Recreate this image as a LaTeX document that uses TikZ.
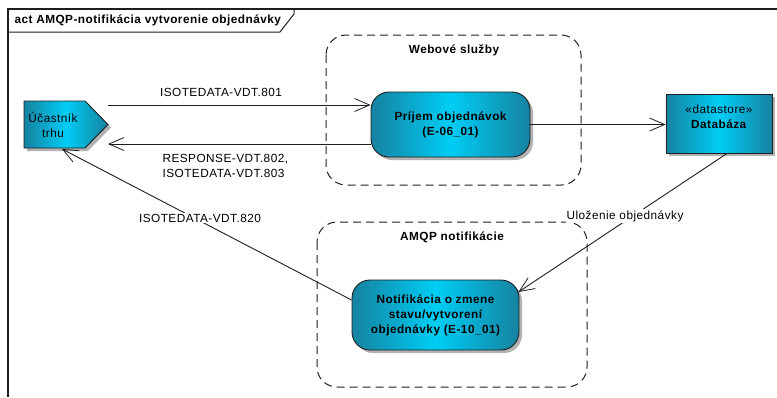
\documentclass[tikz,border=0pt]{standalone}
\usepackage{fontspec}
\setmainfont{Liberation Sans}[LetterSpace=4]
\usetikzlibrary{arrows.meta,shadows,calc}
\definecolor{tealdk}{RGB}{22,130,160}
\definecolor{tealbr}{RGB}{0,205,245}
\definecolor{ink}{RGB}{30,30,30}
\begin{document}
\begin{tikzpicture}[x=1pt,y=-1pt,
  font=\fontsize{11.8}{15}\selectfont,
  conn/.style={draw=ink, line width=0.9pt},
  arr/.style={conn, -{Straight Barb[length=15pt,width=13pt,line width=0.8pt]}},
  grp/.style={draw=ink, line width=1pt, dash pattern=on 8pt off 5pt, rounded corners=20pt},
  tealfill/.style={left color=tealdk, right color=tealdk, middle color=tealbr, draw=ink, line width=0.9pt,
    drop shadow={shadow xshift=3pt, shadow yshift=-3pt, fill=black!30, opacity=1}},
  act/.style={tealfill, rounded corners=18pt, align=center, font=\fontsize{11.8}{15}\selectfont\bfseries},
  lbl/.style={fill=white, inner sep=1pt},
  grplbl/.style={font=\fontsize{11.8}{15}\selectfont\bfseries}
]
\useasboundingbox (0,0) rectangle (777,397);
% frame
\draw[ink, line width=1.8pt] (8,397) -- (8,9) -- (777,9);
\draw[ink, line width=1pt] (8,32) -- (280,32) -- (294,14) -- (294,9);
\node[anchor=west, font=\fontsize{11.8}{15}\selectfont\bfseries] (title) at (11,20.5) {act AMQP-notifikácia vytvorenie objednávky};

% groups
\draw[grp] (326,35) rectangle (581,185);
\node[grplbl] (g1) at (454,50) {Webové služby};
\draw[grp] (317,222) rectangle (587,387);
\node[grplbl] (g2) at (452,237) {AMQP notifikácie};

% participant
\path[tealfill] (24,101) -- (85,101) -- (108,124.5) -- (85,148) -- (24,148) -- cycle;
\node[align=center] (uc) at (53,124.5) {Účastník\\trhu};
\coordinate (uctip) at (108,124.5);
\coordinate (ucbot) at (62,149);

% actions
\node[act, minimum width=159pt, minimum height=65pt] (pr) at (450.5,124.5) {Príjem objednávok\\(E-06\_01)};
\node[tealfill, minimum width=106pt, minimum height=59pt] (db) at (719,123.5) {};
\node[align=center] (dbt) at (719,117) {«datastore»\\\textbf{Databáza}};
\node[act, minimum width=167pt, minimum height=70pt] (nt) at (435.5,315) {Notifikácia o zmene\\stavu/vytvorení\\objednávky (E-10\_01)};

% connectors
\coordinate (a1) at ($(pr.west)+(0,-19.5)$);
\coordinate (a2) at ($(pr.west)+(0,19.5)$);
\draw[arr] (a1 -| uctip) -- (a1);
\draw[arr] (a2) -- (a2 -| uctip);
\draw[arr] (pr.east) -- (pr.east -| db.west);
\coordinate (dbs) at ($(db.south)+(8,0)$);
\coordinate (nte) at ($(nt.east)+(-1,-23)$);
\draw[arr] (dbs) -- (nte);
\coordinate (ntw) at ($(nt.west)+(0,-15)$);
\draw[arr] (ntw) -- (ucbot);

% labels
\node (l1) at (221,92) {ISOTEDATA-VDT.801};
\node[anchor=west, align=left] (l2) at (159,165.5) {RESPONSE-VDT.802,\\ISOTEDATA-VDT.803};
\node[lbl] (l3) at (200,218) {ISOTEDATA-VDT.820};
\node[lbl] (l4) at (625,216) {Uloženie objednávky};
\end{tikzpicture}
\end{document}
